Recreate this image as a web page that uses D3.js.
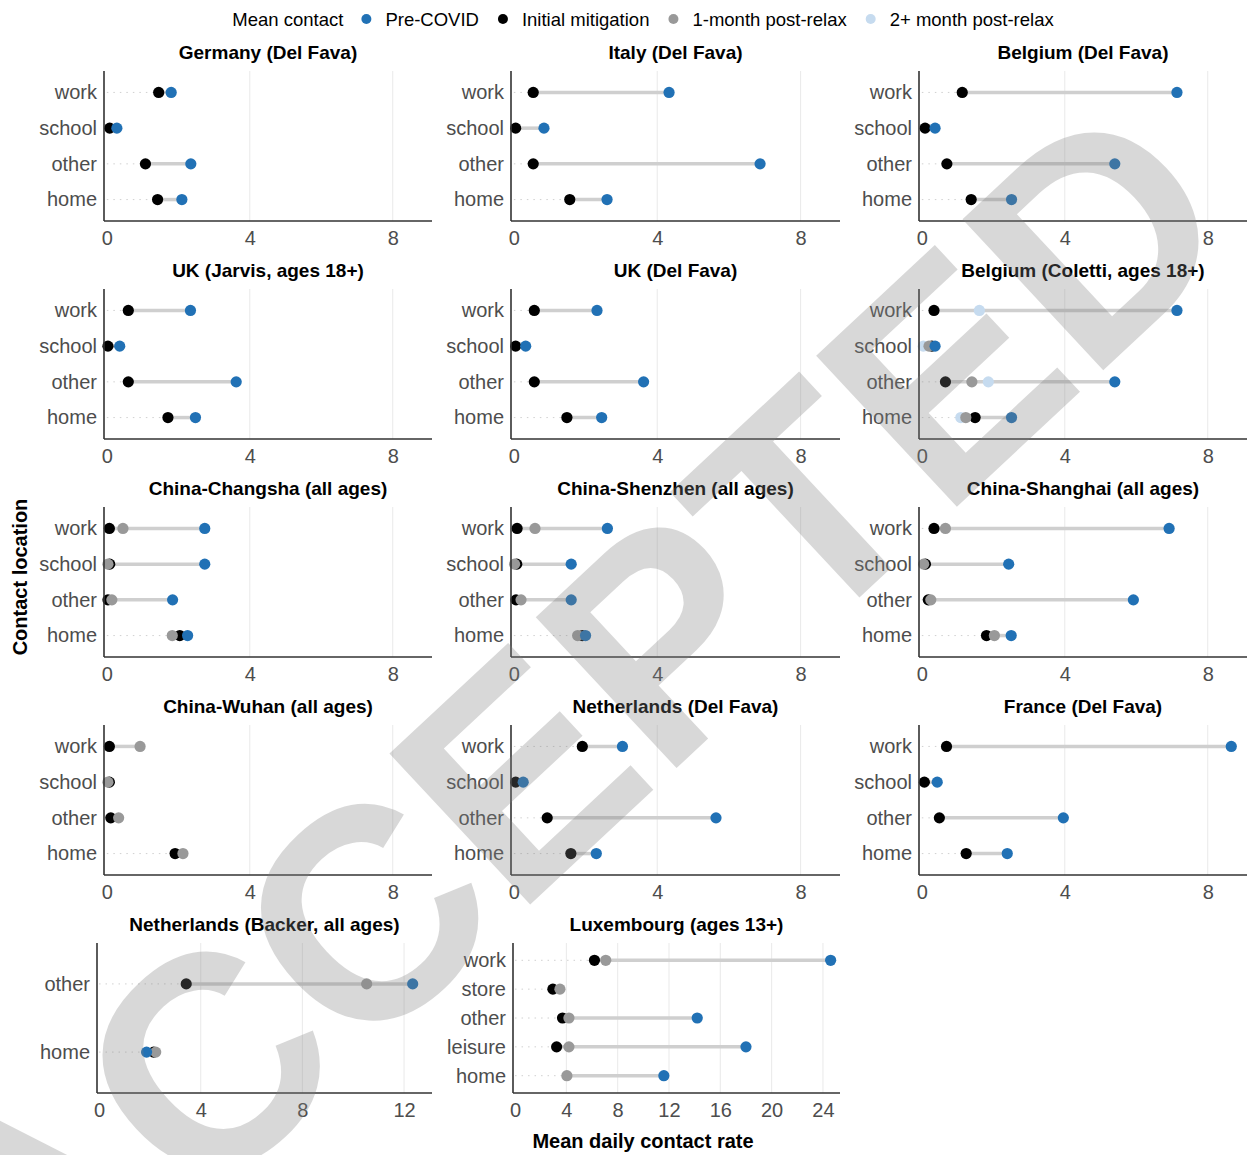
<!DOCTYPE html>
<html>
<head>
<meta charset="utf-8">
<script src="https://cdn.jsdelivr.net/npm/d3@7"></script>
<style>
  body { margin: 0; background: #fff; }
  svg { font-family: "Liberation Sans", Arial, sans-serif; display: block; }
</style>
</head>
<body>
<div id="chart"></div>
<script>
// ---- data ----
const panelTitles = [
  "Germany (Del Fava)", "Italy (Del Fava)", "Belgium (Del Fava)",
  "UK (Jarvis, ages 18+)", "UK (Del Fava)", "Belgium (Coletti, ages 18+)",
  "China-Changsha (all ages)", "China-Shenzhen (all ages)", "China-Shanghai (all ages)",
  "China-Wuhan (all ages)", "Netherlands (Del Fava)", "France (Del Fava)",
  "Netherlands (Backer, all ages)", "Luxembourg (ages 13+)"
];

const locs4 = ["work", "school", "other", "home"];
const panelLocations = [
  locs4, locs4, locs4, locs4, locs4, locs4, locs4, locs4, locs4, locs4, locs4, locs4,
  ["other", "home"],
  ["work", "store", "other", "leisure", "home"]
];

const preCovid = [
  [1.80, 0.28, 2.35, 2.10],
  [4.33, 0.84, 6.87, 2.60],
  [7.14, 0.37, 5.40, 2.51],
  [2.34, 0.36, 3.62, 2.48],
  [2.32, 0.33, 3.62, 2.45],
  [7.14, 0.37, 5.40, 2.51],
  [2.74, 2.74, 1.84, 2.26],
  [2.61, 1.60, 1.60, 2.00],
  [6.92, 2.43, 5.92, 2.50],
  [null, null, null, null],
  [3.03, 0.26, 5.64, 2.30],
  [8.66, 0.43, 3.96, 2.39],
  [12.34, 1.87],
  [24.6, null, 14.2, 18.0, 11.6]
];

const initialMitigation = [
  [1.45, 0.08, 1.08, 1.42],
  [0.54, 0.05, 0.54, 1.56],
  [1.13, 0.09, 0.70, 1.38],
  [0.60, 0.03, 0.60, 1.71],
  [0.57, 0.05, 0.57, 1.48],
  [0.34, 0.28, 0.66, 1.49],
  [0.07, 0.08, 0.03, 2.04],
  [0.09, 0.08, 0.06, 1.91],
  [0.34, 0.10, 0.18, 1.81],
  [0.07, 0.07, 0.11, 1.91],
  [1.91, 0.05, 0.93, 1.59],
  [0.69, 0.07, 0.49, 1.24],
  [3.43, 2.15],
  [6.19, 2.95, 3.70, 3.24, null]
];

const oneMonthPost = [
  null, null, null, null, null,
  [null, 0.20, 1.40, 1.23],
  [0.45, 0.03, 0.14, 1.83],
  [0.59, 0.02, 0.20, 1.78],
  [0.66, 0.05, 0.25, 2.03],
  [0.93, 0.03, 0.33, 2.13],
  null, null,
  [10.53, 2.23],
  [7.07, 3.50, 4.20, 4.20, 4.04]
];

const twoMonthPost = [
  null, null, null, null, null,
  [1.61, 0.04, 1.86, 1.09],
  null, null, null, null, null, null, null, null
];

const xTicks = [
  [0, 4, 8], [0, 4, 8], [0, 4, 8], [0, 4, 8], [0, 4, 8], [0, 4, 8],
  [0, 4, 8], [0, 4, 8], [0, 4, 8], [0, 4, 8], [0, 4, 8], [0, 4, 8],
  [0, 4, 8, 12],
  [0, 4, 8, 12, 16, 20, 24]
];
const xLimits = [
  [-0.08, 9.1], [-0.08, 9.1], [-0.08, 9.1], [-0.08, 9.1], [-0.08, 9.1], [-0.08, 9.1],
  [-0.08, 9.1], [-0.08, 9.1], [-0.08, 9.1], [-0.08, 9.1], [-0.08, 9.1], [-0.08, 9.1],
  [-0.08, 13.1],
  [-0.16, 25.33]
];

const periods = [
  { name: "Pre-COVID", values: preCovid, color: "#2171b5" },
  { name: "Initial mitigation", values: initialMitigation, color: "#000000" },
  { name: "1-month post-relax", values: oneMonthPost, color: "#999999" },
  { name: "2+ month post-relax", values: twoMonthPost, color: "#c6dbef" }
];
// drawing order of the dots (later on top)
const drawOrder = [3, 1, 2, 0];

// ---- layout ----
const W = 1250, H = 1155;
const axisLeft = [104, 511, 919];
const panelRight = [432, 840, 1247];
const rowTop = [71, 289, 507, 725, 943];
const panelH = 150;

function frame(i) {
  let r = Math.floor(i / 3), c = i % 3;
  let x0 = axisLeft[c];
  if (i === 12) x0 = 97;
  if (i === 13) x0 = 513;
  return { x0: x0, x1: panelRight[c], y0: rowTop[r], y1: rowTop[r] + panelH };
}

let svg = d3.select("#chart").append("svg")
  .attr("width", W)
  .attr("height", H)
  .style("background-color", "white");

panelTitles.forEach(function(title, i) {
  let f = frame(i);
  let g = svg.append("g").attr("class", "panel");

  let xScale = d3.scaleLinear().domain(xLimits[i]).range([f.x0, f.x1]);
  let yScale = d3.scalePoint().domain(panelLocations[i]).range([f.y0, f.y1]).padding(0.6);

  // vertical grid lines
  g.selectAll(".grid").data(xTicks[i].filter(t => t > 0)).enter()
    .append("line")
    .attr("x1", d => xScale(d)).attr("x2", d => xScale(d))
    .attr("y1", f.y0).attr("y2", f.y1)
    .attr("stroke", "#ebebeb")
    .attr("stroke-width", 1.1);

  // collect values per location
  let rows = panelLocations[i].map(function(loc, j) {
    let vals = periods.map(p => (p.values[i] ? p.values[i][j] : null)).filter(v => v != null);
    return { loc: loc, min: d3.min(vals), max: d3.max(vals) };
  });

  // dotted guide from 0 to first dot
  g.selectAll(".guide").data(rows).enter()
    .append("line")
    .attr("x1", xScale(0)).attr("x2", d => xScale(d.min))
    .attr("y1", d => yScale(d.loc)).attr("y2", d => yScale(d.loc))
    .attr("stroke", "#d0d0d0")
    .attr("stroke-width", 1)
    .attr("stroke-dasharray", "1.5,5");

  // range segment
  g.selectAll(".seg").data(rows).enter()
    .append("line")
    .attr("x1", d => xScale(d.min)).attr("x2", d => xScale(d.max))
    .attr("y1", d => yScale(d.loc)).attr("y2", d => yScale(d.loc))
    .attr("stroke", "#cfcfcf")
    .attr("stroke-width", 3.5);

  // dots
  drawOrder.forEach(function(k) {
    let p = periods[k];
    if (!p.values[i]) return;
    let pts = panelLocations[i].map((loc, j) => ({ loc: loc, v: p.values[i][j] })).filter(d => d.v != null);
    g.selectAll(".dot" + k).data(pts).enter()
      .append("circle")
      .attr("cx", d => xScale(d.v))
      .attr("cy", d => yScale(d.loc))
      .attr("r", 5.6)
      .attr("fill", p.color);
  });

  // axes
  let yAxis = d3.axisLeft(yScale).tickSize(0).tickPadding(7);
  let yg = g.append("g").attr("transform", "translate(" + f.x0 + ",0)").call(yAxis);
  yg.select(".domain").remove();
  yg.selectAll("text").attr("font-size", 20).attr("fill", "#4d4d4d").attr("font-family", "Liberation Sans, Arial, sans-serif");

  let xAxis = d3.axisBottom(xScale).tickValues(xTicks[i]).tickSize(0).tickPadding(10).tickFormat(d3.format("d"));
  let xg = g.append("g").attr("transform", "translate(0," + f.y1 + ")").call(xAxis);
  xg.select(".domain").remove();
  xg.selectAll("text").attr("font-size", 20).attr("fill", "#4d4d4d").attr("font-family", "Liberation Sans, Arial, sans-serif");

  g.append("line")
    .attr("x1", f.x0).attr("x2", f.x0).attr("y1", f.y0).attr("y2", f.y1)
    .attr("stroke", "#333").attr("stroke-width", 1.6);
  g.append("line")
    .attr("x1", f.x0).attr("x2", f.x1).attr("y1", f.y1).attr("y2", f.y1)
    .attr("stroke", "#333").attr("stroke-width", 1.6);

  // panel title
  g.append("text")
    .attr("x", (f.x0 + f.x1) / 2)
    .attr("y", f.y0 - 12)
    .attr("text-anchor", "middle")
    .attr("font-size", 19)
    .attr("font-weight", "bold")
    .attr("fill", "black")
    .text(title);
});

// axis titles
svg.append("text")
  .attr("x", 643).attr("y", 1148)
  .attr("text-anchor", "middle")
  .attr("font-size", 20).attr("font-weight", "bold")
  .text("Mean daily contact rate");

svg.append("text")
  .attr("transform", "translate(27,577) rotate(-90)")
  .attr("text-anchor", "middle")
  .attr("font-size", 20).attr("font-weight", "bold")
  .text("Contact location");

// legend
let legend = svg.append("g");
let lx = 0;
let lt = legend.append("text").attr("x", lx).attr("y", 25.5).attr("font-size", 18.5).text("Mean contact");
lx += lt.node().getComputedTextLength() + 23;
periods.forEach(function(p) {
  legend.append("circle").attr("cx", lx).attr("cy", 19).attr("r", 5).attr("fill", p.color);
  let t = legend.append("text").attr("x", lx + 19).attr("y", 25.5).attr("font-size", 18.5).text(p.name);
  lx += 19 + t.node().getComputedTextLength() + 24;
});
let legendW = lx - 24;
legend.attr("transform", "translate(" + (643 - legendW / 2) + ",0)");

// watermark
svg.append("text")
  .attr("transform", "translate(572,722) rotate(-43)")
  .attr("text-anchor", "middle")
  .attr("dy", "0.35em")
  .attr("font-size", 300)
  .attr("font-weight", "bold")
  .attr("fill", "#808080")
  .attr("opacity", 0.3)
  .text("ACCEPTED");
</script>
</body>
</html>
